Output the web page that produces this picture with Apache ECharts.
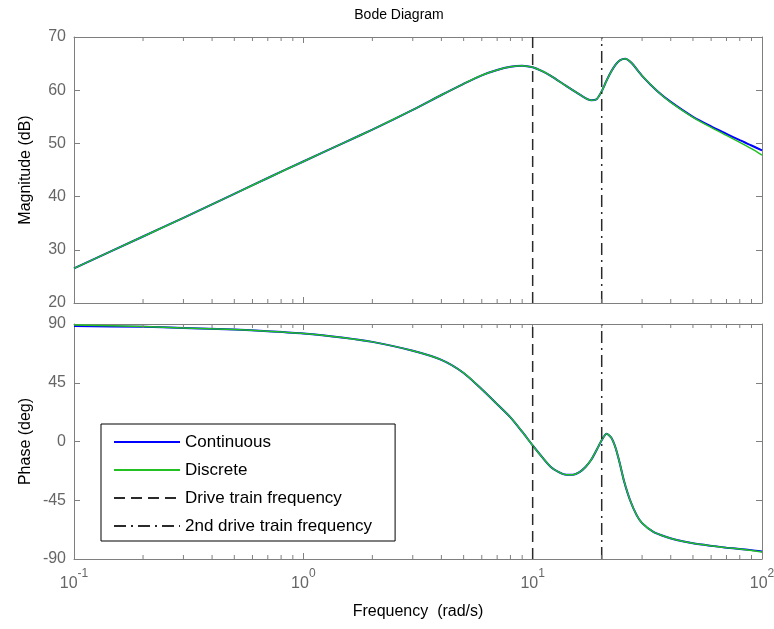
<!DOCTYPE html>
<html>
<head>
<meta charset="utf-8">
<script src="https://cdn.jsdelivr.net/npm/echarts@6/dist/echarts.min.js"></script>
<style>html,body{margin:0;padding:0;background:#fff}#c{width:774px;height:629px}</style>
</head>
<body>
<div id="c"></div>
<script>
// ---- data ----
var magFreq = [0.1,0.2,0.3,0.5,0.7,1,1.5,2,3,4,5,6,7,8,9,10,11,12,14,16,18,19,20,21,22,23,24,25.3,27,30,35,40,50,60,70,80,90,100];
var magContinuous = [26.5,32.5,36.0,40.5,43.5,46.6,50.1,52.6,56.3,59.1,61.2,62.8,63.8,64.4,64.6,64.3,63.6,62.7,60.8,59.2,58.1,58.3,59.8,61.8,63.5,64.8,65.6,65.9,65.1,62.7,59.8,57.8,55.0,53.2,51.8,50.6,49.6,48.7];
var magDiscrete   = [26.5,32.5,36.0,40.5,43.5,46.6,50.1,52.6,56.3,59.1,61.2,62.8,63.8,64.4,64.6,64.3,63.6,62.7,60.8,59.2,58.1,58.3,59.8,61.8,63.5,64.8,65.6,65.9,65.1,62.7,59.8,57.7,54.9,53.0,51.5,50.2,49.0,47.8];
var phFreq = [0.1,0.2,0.3,0.5,0.7,1,1.5,2,3,4,5,6,7,8,9,10,11,12,13,14,15,16,17,18,19,20,21,22,23,24,25,26.6,28.4,30,33.6,38,42.5,50,61.4,70,80,90,100];
var phContinuous = [88.5,87.8,87.0,85.8,84.5,82.8,79.5,76.3,69.5,62.5,52.5,40.0,28.6,18.5,7.5,-3.0,-12.0,-19.5,-23.5,-25.5,-25.5,-23.5,-19.5,-14.0,-6.5,1.0,6.0,3.0,-5.0,-17.0,-30.0,-45.0,-56.4,-62.5,-69.2,-73.0,-75.5,-78.0,-80.1,-81.3,-82.3,-83.2,-84.2];
var phDiscrete   = [89.2,88.0,87.0,85.8,84.5,82.8,79.5,76.3,69.5,62.5,52.5,40.0,28.6,18.5,7.5,-3.0,-12.0,-19.5,-23.5,-25.5,-25.5,-23.5,-19.5,-14.0,-6.5,1.0,6.0,3.0,-5.0,-17.0,-30.0,-45.0,-56.4,-62.5,-69.2,-73.0,-75.5,-78.0,-80.1,-81.3,-82.3,-83.4,-84.6];
var driveFreq = 10;
var drive2Freq = 20;
var magRange = [20, 70];
var phRange = [-90, 90];
var minorTicks = [0.2,0.3,0.4,0.5,0.6,0.7,0.8,0.9,2,3,4,5,6,7,8,9,20,30,40,50,60,70,80,90];
var seriesNames = ['Continuous','Discrete','Drive train frequency','2nd drive train frequency'];

// ---- chart ----
var FONT = '"Liberation Sans", Arial, sans-serif';
var AX = '#7f7f7f';
function zip(a,b){return a.map(function(v,i){return [v,b[i]];});}
function xAx(gi, pos, showLabel){
  return {
    type:'log', logBase:10, min:0.1, max:100, gridIndex:gi, position:pos,
    axisLine:{show:true, onZero:false, lineStyle:{color:AX, width:1}},
    axisTick:{show:true, inside:true, length:6, lineStyle:{color:AX}},
    splitLine:{show:false}, minorTick:{show:false},
    axisLabel:{show:showLabel, margin:9, color:'#666',
      formatter:function(v){var e=Math.round(Math.log(v)/Math.LN10);return '{b|10}{e|'+e+'}';},
      rich:{b:{fontSize:16, fontFamily:FONT, color:'#666', verticalAlign:'bottom', lineHeight:24},
            e:{fontSize:12, fontFamily:FONT, color:'#666', verticalAlign:'top', lineHeight:24}}},
    name: showLabel ? 'Frequency  (rad/s)' : '', nameLocation:'middle', nameGap:45,
    nameTextStyle:{color:'#000', fontSize:16, fontFamily:FONT}
  };
}
function yAx(gi, pos, rng, iv, showLabel, name){
  return {
    type:'value', min:rng[0], max:rng[1], interval:iv, gridIndex:gi, position:pos,
    axisLine:{show:true, onZero:false, lineStyle:{color:AX, width:1}},
    axisTick:{show:true, inside:true, length:6, lineStyle:{color:AX}},
    splitLine:{show:false},
    axisLabel:{show:showLabel, margin:8, color:'#666', fontSize:16, fontFamily:FONT},
    name: name || '', nameLocation:'middle', nameGap:40, nameMoveOverlap:false,
    nameTextStyle:{color:'#000', fontSize:16, fontFamily:FONT}
  };
}
function minorSeries(xi, yi, yval){
  return {
    type:'custom', xAxisIndex:xi, yAxisIndex:yi, silent:true, z:5,
    data: minorTicks.map(function(v){return [v, yval];}),
    renderItem:function(params, api){
      var x = api.coord([api.value(0), api.value(1)])[0];
      var cs = params.coordSys;
      var st = {stroke:AX, lineWidth:1};
      return {type:'group', children:[
        {type:'line', shape:{x1:x, y1:cs.y+cs.height, x2:x, y2:cs.y+cs.height-4}, style:st},
        {type:'line', shape:{x1:x, y1:cs.y, x2:x, y2:cs.y+4}, style:st}
      ]};
    }
  };
}
function vline(name, f, xi, yi, rng, dash){
  return {
    name:name, type:'line', xAxisIndex:xi, yAxisIndex:yi, symbol:'none', silent:true,
    data:[[f, rng[0]],[f, rng[1]]],
    lineStyle:{color:'#2a2a2a', width:1.5, type:dash}, itemStyle:{color:'#2a2a2a'}, z:3
  };
}
var blue = '#0000ff', green = '#22c022';
var chart = echarts.init(document.getElementById('c'), null, {renderer:'canvas'});
chart.setOption({
  animation:false,
  backgroundColor:'#fff',
  graphic:[{type:'text', x:399, y:15, style:{text:'Bode Diagram', fill:'#000', font:'14px '+FONT, textAlign:'center', textVerticalAlign:'middle'}}],
  grid:[
    {left:74, right:12, top:37, height:266, outerBoundsMode:'none', containLabel:false},
    {left:74, right:12, top:324, height:235, outerBoundsMode:'none', containLabel:false}
  ],
  xAxis:[ xAx(0,'bottom',false), xAx(0,'top',false), xAx(1,'bottom',true), xAx(1,'top',false) ],
  yAxis:[
    yAx(0,'left',magRange,10,true,'Magnitude (dB)'), yAx(0,'right',magRange,10,false),
    yAx(1,'left',phRange,45,true,'Phase (deg)'), yAx(1,'right',phRange,45,false)
  ],
  legend:{
    orient:'vertical', left:101, top:424, data:seriesNames,
    itemWidth:66, itemHeight:10, itemGap:10,
    backgroundColor:'#fff', borderColor:'#000', borderWidth:1, borderRadius:0,
    padding:[9,23,6,12],
    itemStyle:{opacity:0},
    textStyle:{color:'#000', fontSize:17, fontFamily:FONT, lineHeight:18},
    selectedMode:false
  },
  series:[
    {name:'Continuous', type:'line', xAxisIndex:0, yAxisIndex:0, symbol:'none', smooth:0.25, data:zip(magFreq, magContinuous), lineStyle:{color:blue, width:2}, itemStyle:{color:blue}, z:2},
    {name:'Discrete', type:'line', xAxisIndex:0, yAxisIndex:0, symbol:'none', smooth:0.25, data:zip(magFreq, magDiscrete), lineStyle:{color:green, width:1.5}, itemStyle:{color:green}, z:2},
    {name:'Continuous', type:'line', xAxisIndex:2, yAxisIndex:2, symbol:'none', smooth:0.25, data:zip(phFreq, phContinuous), lineStyle:{color:blue, width:2}, itemStyle:{color:blue}, z:2},
    {name:'Discrete', type:'line', xAxisIndex:2, yAxisIndex:2, symbol:'none', smooth:0.25, data:zip(phFreq, phDiscrete), lineStyle:{color:green, width:1.5}, itemStyle:{color:green}, z:2},
    vline('Drive train frequency', driveFreq, 0, 0, magRange, [11,6]),
    vline('Drive train frequency', driveFreq, 2, 2, phRange, [11,6]),
    vline('2nd drive train frequency', drive2Freq, 0, 0, magRange, [12,5,2,5]),
    vline('2nd drive train frequency', drive2Freq, 2, 2, phRange, [12,5,2,5]),
    minorSeries(0, 0, magRange[0]),
    minorSeries(2, 2, phRange[0])
  ]
});
</script>
</body>
</html>
